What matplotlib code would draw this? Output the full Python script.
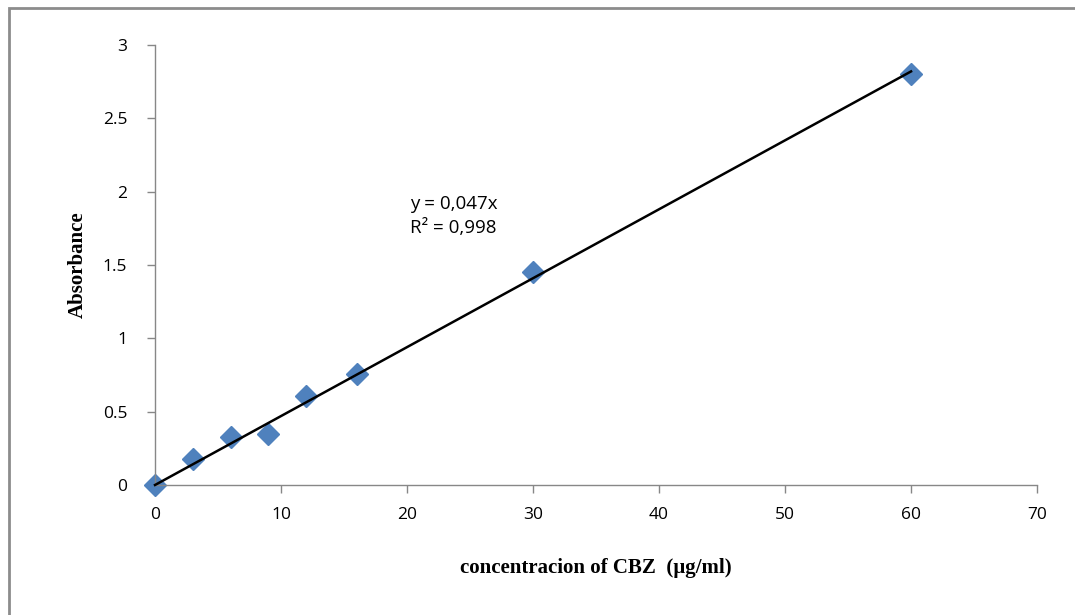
import numpy as np
import matplotlib.pyplot as plt
from matplotlib.patches import Rectangle

# datos de la curva de calibración
conc = [0, 3, 6, 9, 12, 16, 30, 60]
absorb = [0, 0.18, 0.325, 0.345, 0.61, 0.76, 1.45, 2.805]
pendiente = 0.047
x_ticks = [0, 10, 20, 30, 40, 50, 60, 70]
y_ticks = [0, 0.5, 1, 1.5, 2, 2.5, 3]
y_labels = ['0', '0.5', '1', '1.5', '2', '2.5', '3']

fig = plt.figure(figsize=(10.75, 6.15), dpi=100)
ax = fig.add_axes([0.1442, 0.2114, 0.8205, 0.7154])

# recuadro exterior gris
fig.patches.append(Rectangle((9 / 1075, -0.1), 1.2, 1 - 8 / 615 + 0.1,
                             transform=fig.transFigure, fill=False,
                             edgecolor='#8c8c8c', linewidth=2.0))

xl = np.array([0, conc[-1]])
ax.plot(xl, pendiente * xl, color='black', linewidth=1.8, zorder=3,
        clip_on=False)
ax.plot(conc, absorb, linestyle='none', marker='D', markersize=11.5,
        color='#4F81BD', zorder=2, clip_on=False)

ax.set_xlim(0, 70)
ax.set_ylim(0, 3)
ax.set_xticks(x_ticks)
ax.set_yticks(y_ticks)
ax.set_yticklabels(y_labels)
for s in ['top', 'right']:
    ax.spines[s].set_visible(False)
for s in ['left', 'bottom']:
    ax.spines[s].set_color('#878787')
    ax.spines[s].set_linewidth(1.0)
ax.tick_params(direction='out', length=6, color='#878787', width=1.0,
               labelsize=12.5, pad=6)
for lab in ax.get_xticklabels() + ax.get_yticklabels():
    lab.set_family('Open Sans')
ax.tick_params(axis='x', pad=10)
ax.tick_params(axis='y', pad=14)

ax.set_xlabel('concentracion of CBZ  (µg/ml)', family='Liberation Serif',
              fontweight='bold', fontsize=15, labelpad=25)
ax.set_ylabel('Absorbance', family='Liberation Serif', fontweight='bold',
              fontsize=15, labelpad=11)

fig.text(410 / 1075, 1 - 204 / 615, 'y = 0,047x', family='Open Sans',
         fontsize=13.5, va='center')
fig.text(410 / 1075, 1 - 228 / 615, 'R² = 0,998', family='Open Sans',
         fontsize=13.5, va='center')

fig.savefig('out.png', dpi=100)
